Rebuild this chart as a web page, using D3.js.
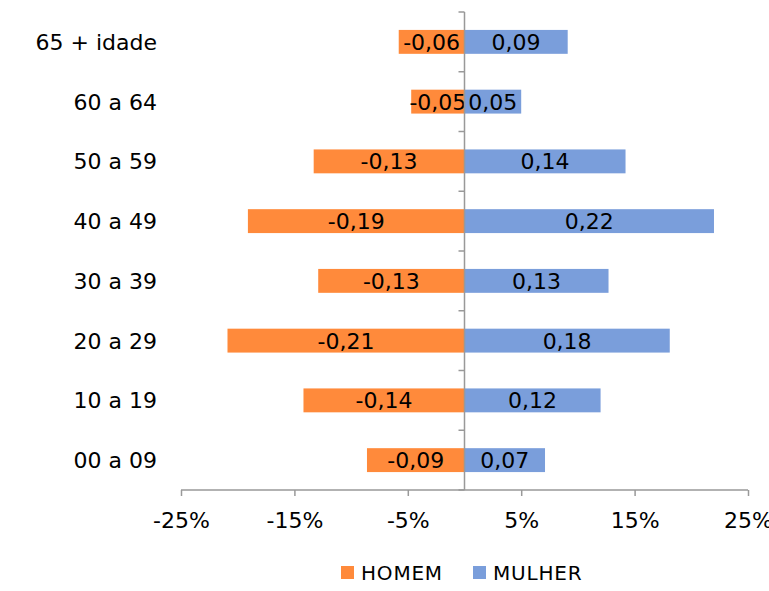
<!DOCTYPE html>
<html>
<head>
<meta charset="utf-8">
<script src="https://cdn.jsdelivr.net/npm/d3@7"></script>
<style>
  body { margin: 0; background: #fff; }
  text { font-family: "DejaVu Sans", sans-serif; fill: #000; }
</style>
</head>
<body>
<div id="chart"></div>
<script>
// data (shares of population, as fractions)
const categories = ["65 + idade", "60 a 64", "50 a 59", "40 a 49", "30 a 39", "20 a 29", "10 a 19", "00 a 09"];
const homem  = [-0.058, -0.047, -0.133, -0.191, -0.129, -0.209, -0.142, -0.086];
const mulher = [0.091, 0.050, 0.142, 0.220, 0.127, 0.181, 0.120, 0.071];
const xTicks = [-0.25, -0.15, -0.05, 0.05, 0.15, 0.25];
const seriesNames = ["HOMEM", "MULHER"];
const colors = ["#FF8A3B", "#7A9EDB"];

const width = 769, height = 591;
const margin = {top: 12, right: 21, bottom: 101, left: 181};

let svg = d3.select("#chart")
  .append("svg")
    .attr("width", width)
    .attr("height", height);

const x = d3.scaleLinear()
  .domain([-0.25, 0.25])
  .range([margin.left, width - margin.right]);

const y = d3.scaleBand()
  .domain(categories)
  .range([margin.top, height - margin.bottom])
  .paddingInner(0.6)
  .paddingOuter(0.3);

const fmt = v => d3.format(".2f")(v).replace(".", ",").replace("−", "-");

// bars
[homem, mulher].forEach((vals, s) => {
  svg.append("g").selectAll("rect")
    .data(vals)
    .enter()
    .append("rect")
      .attr("x", d => Math.min(x(0), x(d)))
      .attr("y", (d, i) => y(categories[i]))
      .attr("width", d => Math.abs(x(d) - x(0)))
      .attr("height", y.bandwidth())
      .style("fill", colors[s]);

  svg.append("g").selectAll("text")
    .data(vals)
    .enter()
    .append("text")
      .attr("x", d => (x(0) + x(d)) / 2)
      .attr("y", (d, i) => y(categories[i]) + y.bandwidth() / 2)
      .attr("dy", "0.36em")
      .attr("text-anchor", "middle")
      .style("font-size", "22px")
      .text(d => fmt(d));
});

// x axis at the bottom
const xAxis = svg.append("g")
  .attr("transform", "translate(0," + (height - margin.bottom) + ")")
  .call(d3.axisBottom(x).tickValues(xTicks).tickSize(6).tickPadding(16)
    .tickFormat(d => d3.format(".0%")(d).replace("−", "-")));
xAxis.select(".domain").attr("stroke", "#999").attr("stroke-width", 1.5)
  .attr("d", "M" + x(-0.25) + ",0H" + x(0.25));
xAxis.selectAll(".tick line").attr("stroke", "#999").attr("stroke-width", 1.5);
xAxis.selectAll("text").style("font-size", "22px").style("font-family", "DejaVu Sans");

// vertical category axis at zero
const bounds = d3.range(categories.length + 1).map(i => margin.top + i * (height - margin.bottom - margin.top) / categories.length);
svg.append("line")
  .attr("x1", x(0)).attr("x2", x(0))
  .attr("y1", margin.top).attr("y2", height - margin.bottom)
  .attr("stroke", "#999").attr("stroke-width", 1.5);
svg.append("g").selectAll("line")
  .data(bounds)
  .enter()
  .append("line")
    .attr("x1", x(0) - 6).attr("x2", x(0))
    .attr("y1", d => d).attr("y2", d => d)
    .attr("stroke", "#999").attr("stroke-width", 1.5);

// category labels
svg.append("g").selectAll("text")
  .data(categories)
  .enter()
  .append("text")
    .attr("x", 157)
    .attr("y", d => y(d) + y.bandwidth() / 2)
    .attr("dy", "0.36em")
    .attr("text-anchor", "end")
    .style("font-size", "22px")
    .text(d => d);

// legend
const legend = svg.append("g").attr("transform", "translate(341,573)");
const legX = [0, 132];
seriesNames.forEach((n, i) => {
  legend.append("rect")
    .attr("x", legX[i]).attr("y", -7)
    .attr("width", 13).attr("height", 13)
    .style("fill", colors[i]);
  legend.append("text")
    .attr("x", legX[i] + 20).attr("y", 0)
    .attr("dy", "0.36em")
    .style("font-size", "20px")
    .style("letter-spacing", "0.8px")
    .text(n);
});
</script>
</body>
</html>
